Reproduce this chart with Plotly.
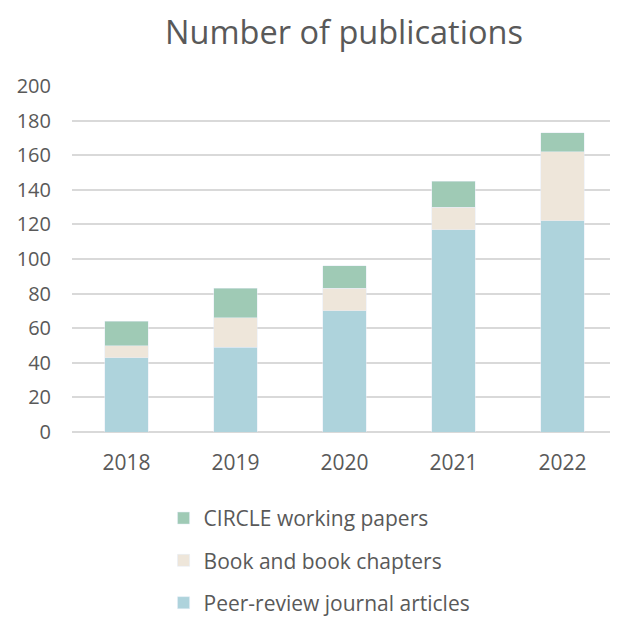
import plotly.graph_objects as go

years = ["2018", "2019", "2020", "2021", "2022"]
peer_review = [43, 49, 70, 117, 122]
books = [7, 17, 13, 13, 40]
circle_papers = [14, 17, 13, 15, 11]

font_family = "Open Sans, Lato, sans-serif"
text_color = "#595959"

fig = go.Figure()
fig.add_trace(go.Bar(x=years, y=peer_review, name="Peer-review journal articles",
                     marker_color="#AED3DC", legendgroup="a", legendrank=3))
fig.add_trace(go.Bar(x=years, y=books, name="Book and book chapters",
                     marker_color="#EEE6DA", legendgroup="b", legendrank=2))
fig.add_trace(go.Bar(x=years, y=circle_papers, name="CIRCLE working papers",
                     marker_color="#9FCAB5", legendgroup="c", legendrank=1))

fig.update_layout(
    width=618, height=617,
    barmode="stack", bargap=0.6,
    paper_bgcolor="white", plot_bgcolor="white",
    margin=dict(l=64, r=9, t=78, b=193, autoexpand=False),
    font=dict(family=font_family, color=text_color, size=19),
    title=dict(text="Number of publications", x=0.5437, xanchor="center",
               y=0.96, yanchor="middle",
               font=dict(size=32.5, color=text_color, family=font_family)),
    showlegend=True,
    legend=dict(orientation="v", x=0.168, xanchor="left",
                yref="container", y=0.206, yanchor="top",
                traceorder="grouped", tracegroupgap=12,
                font=dict(size=21, color=text_color), itemwidth=30),
    xaxis=dict(showgrid=False, showline=False, ticks="", tickfont=dict(size=21),
               ticklabelstandoff=16),
    yaxis=dict(range=[0, 200], dtick=20, showgrid=True, gridcolor="#D9D9D9",
               gridwidth=1.5, zeroline=True, zerolinecolor="#D9D9D9", zerolinewidth=1.5,
               ticks="", tickfont=dict(size=20), ticklabelstandoff=20),
)

fig.write_html("out.html")
